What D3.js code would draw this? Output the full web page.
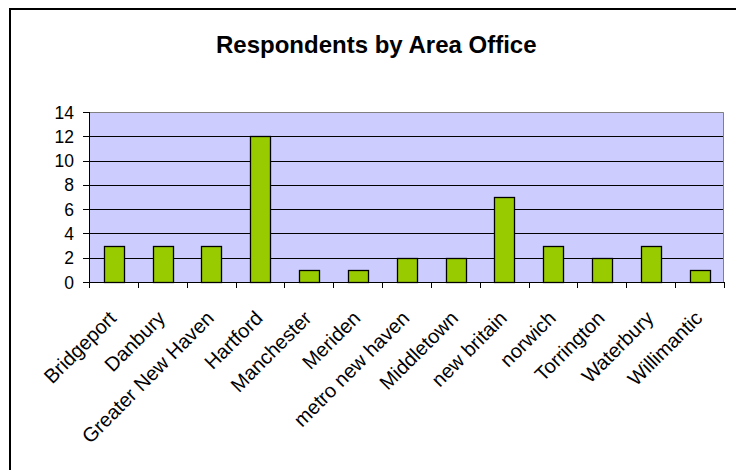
<!DOCTYPE html>
<html><head><meta charset="utf-8">
<script src="https://cdn.jsdelivr.net/npm/d3@7"></script>
<style>html,body{margin:0;padding:0;background:#fff;}svg{display:block;font-family:Arial,"Liberation Sans",sans-serif;}</style>
</head><body>
<script>
const categories = ["Bridgeport","Danbury","Greater New Haven","Hartford","Manchester","Meriden","metro new haven","Middletown","new britain","norwich","Torrington","Waterbury","Willimantic"];
const values = [3,3,3,12,1,1,2,2,7,3,2,3,1];
const yTicks = [0,2,4,6,8,10,12,14];
const title = "Respondents by Area Office";

const W = 736, H = 470;
const svg = d3.select("body").append("svg").attr("width", W).attr("height", H);
// chart border
svg.append("rect").attr("x",10).attr("y",9).attr("width",W+20).attr("height",H+20)
  .attr("fill","#fff").attr("stroke","#000").attr("stroke-width",2);

const L = 89, R = 724, T = 112, B = 282;
const xb = d3.scaleBand().domain(categories).range([L,R]);
const y = d3.scaleLinear().domain([0,14]).range([B,T]);

svg.append("rect").attr("x",L).attr("y",T).attr("width",R-L).attr("height",B-T).attr("fill","#ccccff");
svg.append("g").selectAll("line").data(yTicks.filter(d=>d>0 && d<14)).join("line")
  .attr("x1",L).attr("x2",R).attr("y1",d=>Math.round(y(d))+0.5).attr("y2",d=>Math.round(y(d))+0.5)
  .attr("stroke","#000").attr("stroke-width",1);
// top & right frame
svg.append("path").attr("d",`M${L},${T+0.5}H${R-0.5}V${B}`).attr("fill","none").attr("stroke","#808080");

svg.append("g").selectAll("rect").data(values).join("rect")
  .attr("x",(d,i)=>Math.round(xb(categories[i]) + xb.bandwidth()*0.3)+0.5)
  .attr("width",Math.round(xb.bandwidth()*0.4))
  .attr("y",d=>Math.round(y(d))+0.5)
  .attr("height",d=>B-Math.round(y(d)))
  .attr("fill","#99cc00").attr("stroke","#000").attr("stroke-width",1.3);

// y axis
svg.append("line").attr("x1",L+0.5).attr("x2",L+0.5).attr("y1",T).attr("y2",B).attr("stroke","#000");
svg.append("g").selectAll("line").data(yTicks).join("line")
  .attr("x1",L-6).attr("x2",L).attr("y1",d=>Math.round(y(d))+0.5).attr("y2",d=>Math.round(y(d))+0.5).attr("stroke","#000");
svg.append("g").selectAll("text").data(yTicks).join("text")
  .attr("x",74).attr("y",d=>y(d)+6.5)
  .attr("text-anchor","end").attr("font-size",17.5).text(d=>d);

// x axis
svg.append("line").attr("x1",L).attr("x2",R).attr("y1",B+0.5).attr("y2",B+0.5).attr("stroke","#000");
const bounds = categories.map(c=>xb(c)).concat([R]);
svg.append("g").selectAll("line").data(bounds).join("line")
  .attr("x1",d=>Math.round(d)+0.5).attr("x2",d=>Math.round(d)+0.5).attr("y1",B).attr("y2",B+6).attr("stroke","#000");
svg.append("g").selectAll("text").data(categories).join("text")
  .attr("transform",d=>`translate(${xb(d)+xb.bandwidth()/2+4},${B+37.5}) rotate(-45)`)
  .attr("text-anchor","end").attr("font-size",20).text(d=>d);

svg.append("text").attr("x",216).attr("y",53).attr("text-anchor","start")
  .attr("font-size",24).attr("font-weight","bold").text(title);
</script>
</body></html>
